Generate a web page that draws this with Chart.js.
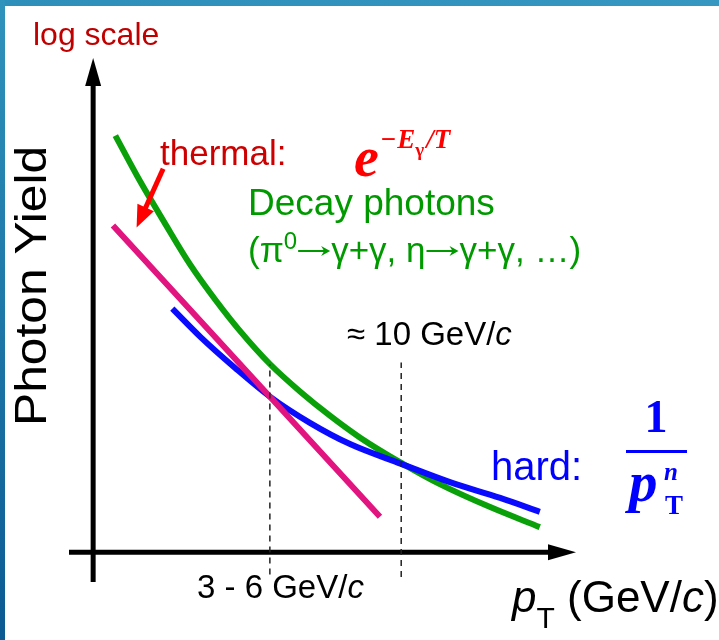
<!DOCTYPE html>
<html>
<head>
<meta charset="utf-8">
<script src="https://cdn.jsdelivr.net/npm/chart.js@4.4.1/dist/chart.umd.min.js"></script>
<style>
    html, body { margin: 0; padding: 0; background: #fff; }
    #wrap { position: relative; width: 719px; height: 640px; overflow: hidden; }
    #chart { position: absolute; left: 0; top: 0; }
    .frame-top { position: absolute; left: 0; top: 0; width: 719px; height: 6px; background: linear-gradient(90deg, #2d8fba, #3698c1); }
    .frame-left { position: absolute; left: 0; top: 0; width: 5px; height: 640px; background: linear-gradient(180deg, #2f93bc, #0b5a92); }
</style>
</head>
<body>
<div id="wrap">
    <canvas id="chart" width="719" height="640"></canvas>
    <div class="frame-top"></div>
    <div class="frame-left"></div>
</div>
<script>
// Schematic photon spectrum, arbitrary units (x ~ pT, y ~ log yield).
const decayX = [0.46, 0.97, 1.49, 2.01, 2.53, 3.04, 3.66, 4.29, 4.91, 5.53, 6.38, 7.18, 8.21, 9.25];
const decayY = [8.43, 7.51, 6.65, 5.82, 5.11, 4.48, 3.81, 3.25, 2.76, 2.32, 1.81, 1.38, 0.92, 0.51];

const hardX = [1.64, 2.22, 2.94, 3.66, 4.49, 5.32, 6.38, 7.39, 8.43, 9.25];
const hardY = [4.93, 4.36, 3.73, 3.15, 2.62, 2.19, 1.79, 1.42, 1.10, 0.82];

const thermalX = [0.41, 5.94];
const thermalY = [6.61, 0.72];

// crossover guides: x position, bottom and top of each dashed line
const markerX = [3.66, 6.38];
const markerBottom = [-0.45, -0.50];
const markerTop = [3.80, 3.84];

// red "thermal" pointer: tail and tip
const pointerX = [1.45, 0.90];
const pointerY = [7.76, 6.57];

const toPoints = (xs, ys) => xs.map((x, i) => ({ x, y: ys[i] }));

const SANS = '"Liberation Sans", Arial, sans-serif';
const SERIF = '"Liberation Serif", "Times New Roman", serif';

/**
 * Draws a sequence of text pieces left to right, each with its own font/offset.
 * A piece with `arrow` set draws a long thin right arrow of that width instead.
 */
function textRun(ctx, x, y, parts, color) {
    ctx.fillStyle = color;
    ctx.strokeStyle = color;
    ctx.textBaseline = "alphabetic";
    ctx.textAlign = "left";
    let cx = x;
    for (const p of parts) {
        if (p.arrow) {
            const ay = y - p.lift;
            ctx.lineWidth = 2;
            ctx.beginPath();
            ctx.moveTo(cx + 1, ay);
            ctx.lineTo(cx + p.arrow - 4, ay);
            ctx.stroke();
            ctx.beginPath();
            ctx.moveTo(cx + p.arrow, ay);
            ctx.lineTo(cx + p.arrow - 9, ay - 5);
            ctx.lineTo(cx + p.arrow - 6, ay);
            ctx.lineTo(cx + p.arrow - 9, ay + 5);
            ctx.closePath();
            ctx.fill();
            cx += p.arrow + 1;
            continue;
        }
        ctx.font = p.font;
        ctx.fillText(p.t, cx, y + (p.dy || 0));
        cx += ctx.measureText(p.t).width + (p.gap || 0);
    }
}

function arrowHead(ctx, x1, y1, x2, y2, len, half) {
    const a = Math.atan2(y2 - y1, x2 - x1);
    ctx.beginPath();
    ctx.moveTo(x2, y2);
    ctx.lineTo(x2 - len * Math.cos(a) + half * Math.sin(a), y2 - len * Math.sin(a) - half * Math.cos(a));
    ctx.lineTo(x2 - len * Math.cos(a) - half * Math.sin(a), y2 - len * Math.sin(a) + half * Math.cos(a));
    ctx.closePath();
    ctx.fill();
}

const axesPlugin = {
    id: "sketchAxes",
    beforeDatasetsDraw(chart) {
        const { ctx, chartArea, scales } = chart;
        const x0 = scales.x.getPixelForValue(0);
        const y0 = scales.y.getPixelForValue(0);
        ctx.save();
        ctx.strokeStyle = "#000";
        ctx.fillStyle = "#000";
        ctx.lineWidth = 5;
        // y axis
        ctx.beginPath();
        ctx.moveTo(x0, chartArea.bottom);
        ctx.lineTo(x0, chartArea.top + 20);
        ctx.stroke();
        arrowHead(ctx, x0, chartArea.bottom, x0, chartArea.top, 28, 8);
        // x axis
        ctx.beginPath();
        ctx.moveTo(chartArea.left, y0);
        ctx.lineTo(chartArea.right - 20, y0);
        ctx.stroke();
        arrowHead(ctx, chartArea.left, y0, chartArea.right, y0, 28, 8);
        ctx.restore();
    },
    afterDraw(chart) {
        const { ctx, scales } = chart;
        ctx.save();

        // pointer arrow
        const tx = scales.x.getPixelForValue(pointerX[0]);
        const ty = scales.y.getPixelForValue(pointerY[0]);
        const hx = scales.x.getPixelForValue(pointerX[1]);
        const hy = scales.y.getPixelForValue(pointerY[1]);
        ctx.strokeStyle = "#ff0000";
        ctx.fillStyle = "#ff0000";
        ctx.lineWidth = 5;
        ctx.beginPath();
        ctx.moveTo(tx, ty);
        ctx.lineTo(tx + (hx - tx) * 0.7, ty + (hy - ty) * 0.7);
        ctx.stroke();
        arrowHead(ctx, tx, ty, hx, hy, 22, 9);

        // labels
        textRun(ctx, 33, 45, [{ t: "log scale", font: `32px ${SANS}` }], "#c00000");
        textRun(ctx, 160, 165, [{ t: "thermal:", font: `35px ${SANS}` }], "#cc0000");

        textRun(ctx, 354, 176, [
            { t: "e", font: `bold italic 56px ${SERIF}`, gap: 2 },
            { t: "\u2212", font: `bold 27px ${SERIF}`, dy: -28, gap: 1 },
            { t: "E", font: `bold italic 27px ${SERIF}`, dy: -28 },
            { t: "\u03b3", font: `bold 19px ${SERIF}`, dy: -20, gap: 2 },
            { t: "/T", font: `bold italic 27px ${SERIF}`, dy: -28 },
        ], "#ff0000");

        textRun(ctx, 248, 215, [{ t: "Decay photons", font: `37px ${SANS}` }], "#009a00");
        textRun(ctx, 248, 262, [
            { t: "(\u03c0", font: `35px ${SANS}` },
            { t: "0", font: `24px ${SANS}`, dy: -13 },
            { arrow: 33, lift: 11 },
            { t: "\u03b3+\u03b3, \u03b7", font: `35px ${SANS}` },
            { arrow: 33, lift: 11 },
            { t: "\u03b3+\u03b3, \u2026)", font: `35px ${SANS}` },
        ], "#009a00");

        textRun(ctx, 347, 345, [
            { t: "\u2248 10 GeV/", font: `33px ${SANS}` },
            { t: "c", font: `italic 33px ${SANS}` },
        ], "#000");

        textRun(ctx, 491, 480, [{ t: "hard:", font: `40px ${SANS}` }], "#0000ff");
        // 1 / pT^n
        ctx.fillStyle = "#0000ff";
        ctx.font = `bold 46px ${SERIF}`;
        ctx.textAlign = "center";
        ctx.fillText("1", 656, 432);
        ctx.fillRect(626, 450, 61, 3);
        textRun(ctx, 629, 501, [{ t: "p", font: `bold italic 57px ${SERIF}` }], "#0000ff");
        textRun(ctx, 664, 480, [{ t: "n", font: `bold italic 25px ${SERIF}` }], "#0000ff");
        textRun(ctx, 665, 514, [{ t: "T", font: `bold 27px ${SERIF}` }], "#0000ff");

        textRun(ctx, 197, 598, [
            { t: "3 - 6 GeV/", font: `33px ${SANS}` },
            { t: "c", font: `italic 33px ${SANS}` },
        ], "#000");

        textRun(ctx, 512, 612, [
            { t: "p", font: `italic 44px ${SANS}` },
            { t: "T", font: `30px ${SANS}`, dy: 16 },
            { t: " (GeV/", font: `44px ${SANS}` },
            { t: "c", font: `italic 44px ${SANS}` },
            { t: ")", font: `44px ${SANS}` },
        ], "#000");

        // rotated y title, slightly stretched along its length like the original
        ctx.save();
        ctx.translate(46, 426);
        ctx.rotate(-Math.PI / 2);
        ctx.scale(1.13, 1);
        ctx.fillStyle = "#000";
        ctx.textAlign = "left";
        ctx.font = `44px ${SANS}`;
        ctx.fillText("Photon Yield", 0, 0);
        ctx.restore();

        ctx.restore();
    },
};

const curve = (data, color) => ({
    data,
    borderColor: color,
    borderWidth: 6,
    pointRadius: 0,
    fill: false,
    cubicInterpolationMode: "monotone",
});

const guideSets = markerX.map((x, i) => ({
    data: [{ x, y: markerBottom[i] }, { x, y: markerTop[i] }],
    borderColor: "#222",
    borderWidth: 1.5,
    borderDash: [6, 5],
    pointRadius: 0,
    fill: false,
}));

new Chart(document.getElementById("chart"), {
    type: "line",
    data: {
        datasets: [
            ...guideSets,
            curve(toPoints(thermalX, thermalY), "#e2147f"),
            curve(toPoints(hardX, hardY), "#0a0aff"),
            curve(toPoints(decayX, decayY), "#0aa00a"),
        ],
    },
    options: {
        responsive: false,
        animation: false,
        devicePixelRatio: 1,
        layout: { padding: { left: 69, right: 143, top: 58, bottom: 58 } },
        plugins: { legend: { display: false }, tooltip: { enabled: false } },
        scales: {
            x: { type: "linear", min: -0.5, max: 10, display: false },
            y: { type: "linear", min: -0.6, max: 10, display: false },
        },
    },
    plugins: [axesPlugin],
});
</script>
</body>
</html>
